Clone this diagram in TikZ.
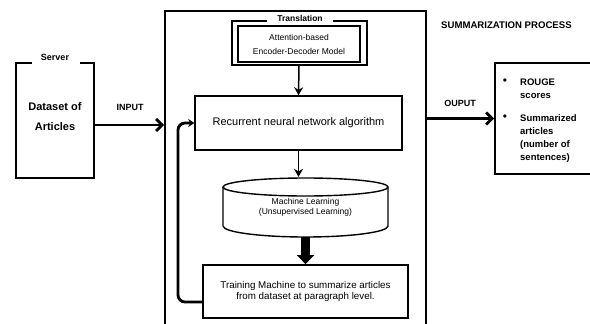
\documentclass[tikz,border=0pt]{standalone}
\usepackage{fontspec}
\setmainfont{Liberation Sans}
\usetikzlibrary{arrows.meta,calc}
\begin{document}
\begin{tikzpicture}[x=1pt,y=-1pt,
  box/.style={draw, line width=1.6pt, rectangle, inner sep=0pt},
  lbl/.style={font=\bfseries\fontsize{9}{10}\selectfont, inner sep=1pt},
  thinarrow/.style={line width=1.5pt, -{Stealth[length=8pt,width=9pt]}},
  bigarrow/.style={line width=2.8pt, -{Straight Barb[length=6pt,width=12pt]}},
  outtxt/.style={font=\bfseries\fontsize{9.5}{12}\selectfont, anchor=base west, inner sep=0pt},
  bul/.style={font=\fontsize{12}{13}\selectfont, inner sep=0pt}
]
\path[use as bounding box, clip] (0,0) rectangle (590,324);
\fill[white] (0,0) rectangle (590,324);

% process frame
\node[box, line width=2pt, minimum width=261pt, minimum height=340pt, anchor=north west] (proc) at (164,10) {};
\node[lbl, font=\bfseries\fontsize{9.6}{10}\selectfont, anchor=west] (title) at (440,25) {SUMMARIZATION PROCESS};

% server
\draw[line width=1.8pt] (32,63) -- (16,63) -- (16,178) -- (94,178) -- (94,63) -- (80,63);
\node[minimum width=78pt, minimum height=115pt, inner sep=0pt] (server) at (55,120.5) {};
\node[lbl] (serverlbl) at (55,57) {Server};
\node[font=\bfseries\fontsize{11}{20}\selectfont, align=center] (data) at (55,117) {Dataset of\\Articles};

\draw[bigarrow] (server.east |- 0,125) -- (proc.west |- 0,125);
\node[lbl] (input) at (130,107) {INPUT};

% translation
\node[draw, line width=1.8pt, minimum width=122pt, minimum height=36pt, align=center, inner sep=0pt, font=\fontsize{8.5}{14}\selectfont] (trans) at (299,44) {Attention-based\\Encoder-Decoder Model};
\draw[line width=1.8pt] (267,21) -- (232,21) -- (232,65) -- (367,65) -- (367,21) -- (333,21);
\node[lbl, font=\bfseries\fontsize{8.5}{10}\selectfont] (translbl) at (300,18) {Translation};

% RNN
\node[box, line width=1.5pt, minimum width=207pt, minimum height=54pt, font=\fontsize{11}{13}\selectfont] (rnn) at (298.5,123) {Recurrent neural network algorithm};
\draw[thinarrow] ([yshift=-3pt]trans.south) -- (rnn.north);

% machine learning cylinder
\draw[line width=1.4pt, fill=white] (223,187) -- (223,226) arc[start angle=180, end angle=0, x radius=82.5, y radius=11] -- (388,187);
\draw[line width=1.4pt] (305.5,187) ellipse[x radius=82.5, y radius=9];
\node[minimum width=165pt, minimum height=60pt, inner sep=0pt, font=\fontsize{8.5}{10}\selectfont, align=center] (ml) at (305.5,207) {Machine Learning\\(Unsupervised Learning)};
\draw[thinarrow] (rnn.south) -- (rnn.south |- ml.north);

% training
\node[box, line width=1.8pt, minimum width=205pt, minimum height=53pt, align=center, font=\fontsize{9.8}{11}\selectfont] (train) at (305.5,291.5) {Training Machine to summarize articles\\from dataset at paragraph level.};
\draw[line width=9pt, -{Triangle[length=9pt,width=17pt]}] (ml.south) -- (train.north);

% feedback loop
\draw[line width=2.8pt, rounded corners=7pt, -{Stealth[length=6pt,width=8pt]}] (train.west |- 0,302) -- (178,302) -- (178,123) -- (rnn.west |- 0,123);

% output
\node[box, line width=1.8pt, minimum width=110pt, minimum height=111pt, anchor=west] (out) at (494,118.5) {};
\draw[bigarrow] (proc.east |- out.west) -- (out.west);
\node[lbl] (oupt) at (460,103) {OUPUT};
\node[bul] (b1) at (505,82) {\textbullet};
\node[bul] (b2) at (505,118) {\textbullet};
\node[outtxt] (t1) at (520,85.5) {ROUGE};
\node[outtxt] (t2) at (520,98.5) {scores};
\node[outtxt] (t3) at (520,121.5) {Summarized};
\node[outtxt] (t4) at (520,134.5) {articles};
\node[outtxt] (t5) at (520,147.5) {(number of};
\node[outtxt] (t6) at (520,160.5) {sentences)};
\end{tikzpicture}
\end{document}
